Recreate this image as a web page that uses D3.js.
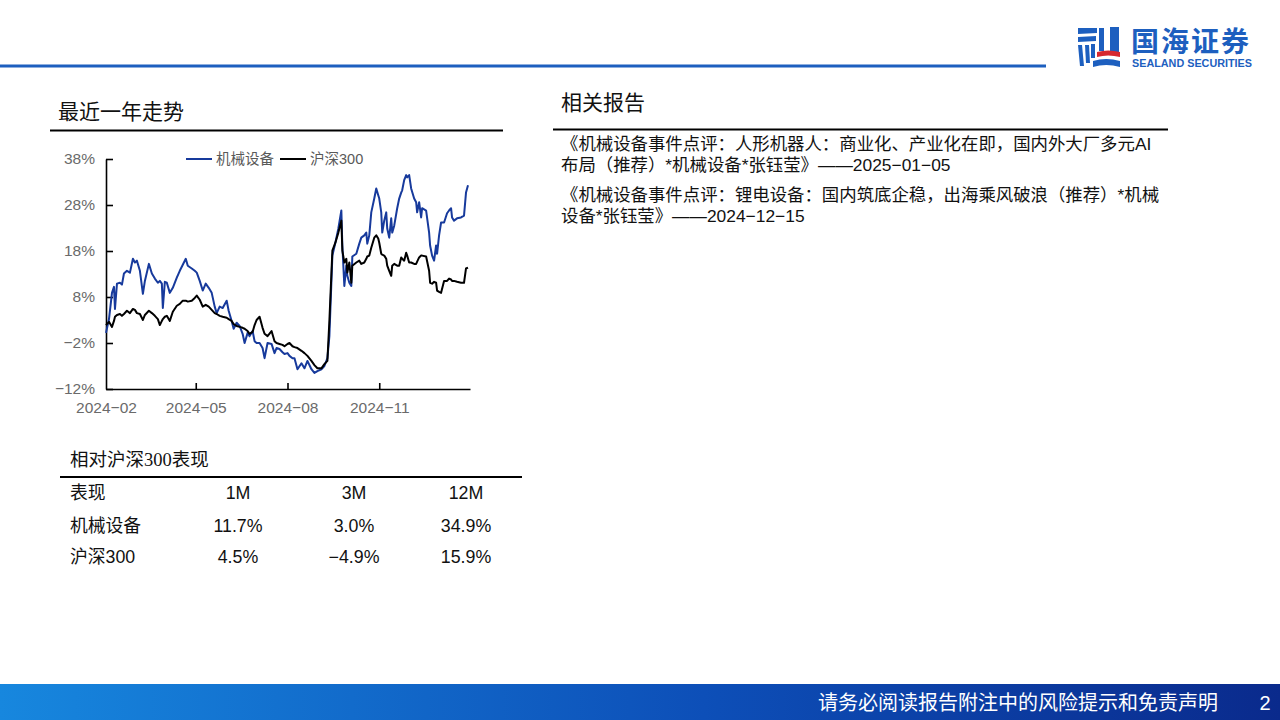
<!DOCTYPE html>
<html><head><meta charset="utf-8">
<script src="https://cdn.jsdelivr.net/npm/d3@7"></script>
<style>body{margin:0;background:#fff}svg{display:block}</style>
</head><body><svg id="c" width="1280" height="720"></svg>
<script>
// ---------- data ----------
const dates = ["2024-02-01","2024-02-04","2024-02-07","2024-02-09","2024-02-10","2024-02-12","2024-02-15","2024-02-17","2024-02-19","2024-02-22","2024-02-25","2024-02-28","2024-03-01","2024-03-03","2024-03-06","2024-03-09","2024-03-11","2024-03-15","2024-03-18","2024-03-21","2024-03-24","2024-03-26","2024-03-28","2024-03-29","2024-03-31","2024-04-02","2024-04-05","2024-04-08","2024-04-12","2024-04-15","2024-04-18","2024-04-21","2024-04-23","2024-04-27","2024-04-30","2024-05-02","2024-05-05","2024-05-08","2024-05-11","2024-05-14","2024-05-17","2024-05-20","2024-05-22","2024-05-25","2024-05-28","2024-06-01","2024-06-03","2024-06-06","2024-06-08","2024-06-11","2024-06-14","2024-06-17","2024-06-19","2024-06-22","2024-06-24","2024-06-27","2024-06-29","2024-07-01","2024-07-04","2024-07-07","2024-07-09","2024-07-12","2024-07-16","2024-07-19","2024-07-21","2024-07-24","2024-07-27","2024-07-29","2024-08-01","2024-08-03","2024-08-06","2024-08-08","2024-08-11","2024-08-15","2024-08-18","2024-08-21","2024-08-25","2024-08-28","2024-08-31","2024-09-04","2024-09-07","2024-09-10","2024-09-12","2024-09-15","2024-09-18","2024-09-21","2024-09-24","2024-09-25","2024-09-27","2024-09-29","2024-09-30","2024-10-02","2024-10-04","2024-10-05","2024-10-09","2024-10-12","2024-10-14","2024-10-17","2024-10-19","2024-10-20","2024-10-22","2024-10-24","2024-10-27","2024-10-29","2024-10-31","2024-11-01","2024-11-03","2024-11-04","2024-11-06","2024-11-08","2024-11-09","2024-11-11","2024-11-13","2024-11-14","2024-11-16","2024-11-19","2024-11-21","2024-11-23","2024-11-24","2024-11-26","2024-11-28","2024-11-29","2024-12-01","2024-12-03","2024-12-06","2024-12-08","2024-12-09","2024-12-11","2024-12-13","2024-12-14","2024-12-18","2024-12-21","2024-12-22","2024-12-24","2024-12-26","2024-12-28","2024-12-29","2024-12-31","2025-01-02","2025-01-05","2025-01-08","2025-01-10","2025-01-12","2025-01-13","2025-01-15","2025-01-18","2025-01-22","2025-01-25","2025-01-27","2025-01-29"];
const machinery = [0.2,3.2,8.9,10.2,5.4,10.9,11.1,10.7,13.1,13.7,13.3,16.3,15.5,15.9,13.7,8.7,11.5,15.2,13.1,12.0,11.1,11.5,10.9,5.6,11.3,11.1,8.9,10.0,12.2,13.7,15.0,16.3,14.8,14.2,13.7,13.3,11.5,9.4,10.9,10.0,8.9,5.9,4.5,5.9,5.6,7.2,5.0,2.8,1.1,2.4,1.7,0.0,-2.0,0.2,-0.5,0.6,-1.6,-2.0,-2.0,-3.1,-5.3,-2.0,-2.2,-4.2,-3.1,-3.3,-4.0,-4.4,-4.2,-4.8,-5.3,-5.3,-7.7,-6.4,-7.5,-5.9,-7.7,-8.5,-8.1,-7.7,-7.0,-5.3,-0.5,17.0,19.8,22.9,26.8,19.2,10.4,14.8,12.6,11.1,10.4,16.8,17.4,19.6,20.9,21.4,22.0,19.6,21.4,26.4,29.4,31.6,30.1,29.4,26.4,22.0,24.6,26.4,22.9,20.9,25.1,22.0,23.5,27.3,29.4,30.7,31.2,33.4,34.5,34.0,34.5,31.6,29.4,28.6,26.4,28.6,25.3,27.3,26.8,22.0,19.2,17.0,15.9,19.2,17.4,21.4,24.2,24.2,26.2,26.8,27.3,25.3,24.6,25.1,25.3,25.7,30.7,32.3];
const csi300 = [1.9,2.6,1.5,2.8,3.7,4.1,4.3,3.9,4.3,5.0,4.5,5.4,5.2,4.5,4.3,3.0,4.1,5.0,4.5,3.9,3.2,1.9,2.8,3.2,3.7,3.9,2.8,4.8,6.1,6.5,7.2,7.2,7.0,7.2,7.8,8.3,7.4,5.9,6.3,5.9,5.2,4.5,4.3,3.9,3.7,3.5,3.2,2.8,2.1,1.7,1.5,1.3,1.1,0.6,0.0,0.4,1.9,3.0,3.7,1.3,0.0,-0.5,0.6,-1.6,-2.0,-2.2,-2.4,-2.7,-2.2,-2.0,-2.7,-2.9,-3.1,-3.7,-4.2,-4.8,-5.9,-6.8,-7.5,-7.5,-6.6,-5.9,2.8,18.1,19.8,22.0,24.6,18.1,15.5,16.3,13.3,15.5,11.1,14.8,15.5,15.9,15.2,15.5,16.3,16.8,17.0,18.7,20.9,21.4,20.7,19.8,17.4,17.2,17.0,16.3,14.8,13.7,12.6,14.8,15.2,14.8,14.8,16.6,16.3,15.9,17.6,17.0,15.5,15.5,15.2,15.2,15.7,16.6,17.0,17.0,16.8,13.7,11.1,10.9,11.3,11.1,9.4,9.1,8.9,11.5,11.5,12.0,11.8,11.5,11.5,11.3,11.1,11.1,14.2,14.4];
const seriesNames = ["机械设备","沪深300"];
const yTicks = [-12,-2,8,18,28,38];
const xTickDates = ["2024-02-01","2024-05-01","2024-08-01","2024-11-01"];
const xDomain = ["2024-02-01","2025-01-31"];
const tableHeader = ["表现","1M","3M","12M"];
const tableRowLabels = ["机械设备","沪深300"];
const tableValues = [["11.7%","3.0%","34.9%"],["4.5%","−4.9%","15.9%"]];
const reportLines = [
  "《机械设备事件点评：人形机器人：商业化、产业化在即，国内外大厂多元AI",
  "布局（推荐）*机械设备*张钰莹》——2025−01−05",
  "《机械设备事件点评：锂电设备：国内筑底企稳，出海乘风破浪（推荐）*机械",
  "设备*张钰莹》——2024−12−15"
];

// ---------- drawing ----------
const svg = d3.select("#c");
const FONT = "'Liberation Sans','Noto Sans CJK SC',sans-serif";
const BLUE = "#1d5fbf";
const LINEBLUE = "#173a9c";

// gradient for footer
const defs = svg.append("defs");
const g1 = defs.append("linearGradient").attr("id","foot").attr("x1","0").attr("x2","1");
g1.append("stop").attr("offset","0").attr("stop-color","#1787de");
g1.append("stop").attr("offset","0.55").attr("stop-color","#0d4fb8");
g1.append("stop").attr("offset","1").attr("stop-color","#0a2a8c");

// header line
svg.append("rect").attr("x",0).attr("y",64.5).attr("width",1046).attr("height",3).attr("fill",BLUE);

// logo icon
const logo = svg.append("g").attr("fill",BLUE);
logo.append("path").attr("d","M1078,28 L1097,28 L1097,33 L1078,34 Z");
logo.append("path").attr("d","M1078,37 L1096,36 L1096,41 L1078,42 Z");
logo.append("path").attr("d","M1078,45 L1082,45 L1084,66 L1080,66 Z");
logo.append("path").attr("d","M1085,45 L1089,45 L1090,63 L1086,63 Z");
logo.append("path").attr("d","M1091,44 L1095,44 L1095,58 L1091,58 Z");
logo.append("rect").attr("x",1099).attr("y",28).attr("width",5).attr("height",23);
logo.append("rect").attr("x",1110).attr("y",27).attr("width",9).attr("height",25);
logo.append("path").attr("d","M1093,61 Q1106,57 1120,61 L1120,67 Q1106,63 1093,67 Z");
svg.append("path").attr("d","M1097,52 Q1108,49 1120,52 L1120,57 Q1108,54 1097,57 Z").attr("fill","#d7282f");
svg.append("text").attr("x",1131).attr("y",40).attr("dominant-baseline","central")
  .attr("font-family","'Noto Sans CJK SC',sans-serif").attr("font-weight","bold")
  .attr("font-size",28).attr("letter-spacing",2).attr("fill",BLUE).text("国海证券");
svg.append("text").attr("x",1132).attr("y",66.5).attr("font-family","'Liberation Sans',sans-serif")
  .attr("font-weight","bold").attr("font-size",10).attr("textLength",120).attr("lengthAdjust","spacingAndGlyphs")
  .attr("fill",BLUE).text("SEALAND SECURITIES");

// section titles
function title(x,y,t,size){
  return svg.append("text").attr("x",x).attr("y",y).attr("dominant-baseline","central")
    .attr("font-family",FONT).attr("font-size",size).attr("fill","#111").text(t);
}
title(58,111,"最近一年走势",21);
svg.append("rect").attr("x",50).attr("y",129.5).attr("width",453).attr("height",2).attr("fill","#000");
title(561,102,"相关报告",21);
svg.append("rect").attr("x",553).attr("y",128.5).attr("width",615).attr("height",2).attr("fill","#000");

// reports
const rY = [144,165,195,216];
svg.selectAll("text.rep").data(reportLines).join("text").attr("class","rep")
  .attr("x",561).attr("y",(d,i)=>rY[i]).attr("dominant-baseline","central")
  .attr("font-family",FONT).attr("font-size",17.4).attr("fill","#111").text(d=>d);

// ---------- chart ----------
const parse = d3.timeParse("%Y-%m-%d");
const x = d3.scaleTime().domain(xDomain.map(parse)).range([106,470]);
const y = d3.scaleLinear().domain([-12,38]).range([389,159]);
const pct = d => (d<0?"−":"")+Math.abs(d)+"%";

const yAxis = svg.append("g").attr("transform","translate(106,0)")
  .call(d3.axisLeft(y).tickValues(yTicks).tickSize(-7).tickSizeOuter(0).tickPadding(11).tickFormat(pct));
const xAxis = svg.append("g").attr("transform","translate(0,389)")
  .call(d3.axisBottom(x).tickValues(xTickDates.map(parse)).tickSize(-6).tickSizeOuter(0).tickPadding(13)
    .tickFormat(d3.timeFormat("%Y−%m")));
[yAxis,xAxis].forEach(a=>{
  a.selectAll("path,line").attr("stroke","#000").attr("stroke-width",1.6);
  a.selectAll("text").attr("font-family",FONT).attr("font-size",15.5).attr("fill","#6a6a6a");
});
xAxis.selectAll(".tick").filter((d,i)=>i===0).select("line").remove();

const series = [
  {name:seriesNames[0], values:machinery, color:LINEBLUE},
  {name:seriesNames[1], values:csi300, color:"#000"}
];
const line = d3.line().x(d=>x(d[0])).y(d=>y(d[1]));
svg.selectAll("path.series").data(series).join("path").attr("class","series")
  .attr("d",s=>line(dates.map((dt,i)=>[parse(dt),s.values[i]])))
  .attr("fill","none").attr("stroke",s=>s.color).attr("stroke-width",2).attr("stroke-linejoin","round");

// legend
const legX = [186,280];
const leg = svg.selectAll("g.leg").data(series).join("g").attr("class","leg")
  .attr("transform",(d,i)=>`translate(${legX[i]},159)`);
leg.append("line").attr("x1",0).attr("x2",26).attr("stroke",d=>d.color).attr("stroke-width",2);
leg.append("text").attr("x",30).attr("dominant-baseline","central").attr("font-family",FONT)
  .attr("font-size",14.5).attr("fill","#595959").text(d=>d.name);

// ---------- table ----------
svg.append("text").attr("x",70).attr("y",460).attr("dominant-baseline","central")
  .attr("font-family","'Liberation Serif','Noto Sans CJK SC',serif").attr("font-size",18.5).attr("fill","#111").text("相对沪深300表现");
svg.append("rect").attr("x",60).attr("y",476).attr("width",462).attr("height",2).attr("fill","#000");
const colX = [70,238,354,466];
const rowY = [493,526,557];
const rows = [tableHeader].concat(tableRowLabels.map((l,i)=>[l].concat(tableValues[i])));
rows.forEach((r,ri)=>{
  svg.selectAll(null).data(r).join("text")
    .attr("x",(d,i)=>colX[i]).attr("y",rowY[ri]).attr("dominant-baseline","central")
    .attr("text-anchor",(d,i)=>i===0?"start":"middle")
    .attr("font-family",FONT).attr("font-size",17.8).attr("fill","#111").text(d=>d);
});

// ---------- footer ----------
svg.append("rect").attr("x",0).attr("y",684).attr("width",1280).attr("height",36).attr("fill","url(#foot)");
svg.append("text").attr("x",818).attr("y",703).attr("dominant-baseline","central")
  .attr("font-family",FONT).attr("font-size",20).attr("fill","#fff").text("请务必阅读报告附注中的风险提示和免责声明");
svg.append("text").attr("x",1265).attr("y",703).attr("dominant-baseline","central").attr("text-anchor","middle")
  .attr("font-family",FONT).attr("font-size",20).attr("fill","#fff").text("2");
</script></body></html>
